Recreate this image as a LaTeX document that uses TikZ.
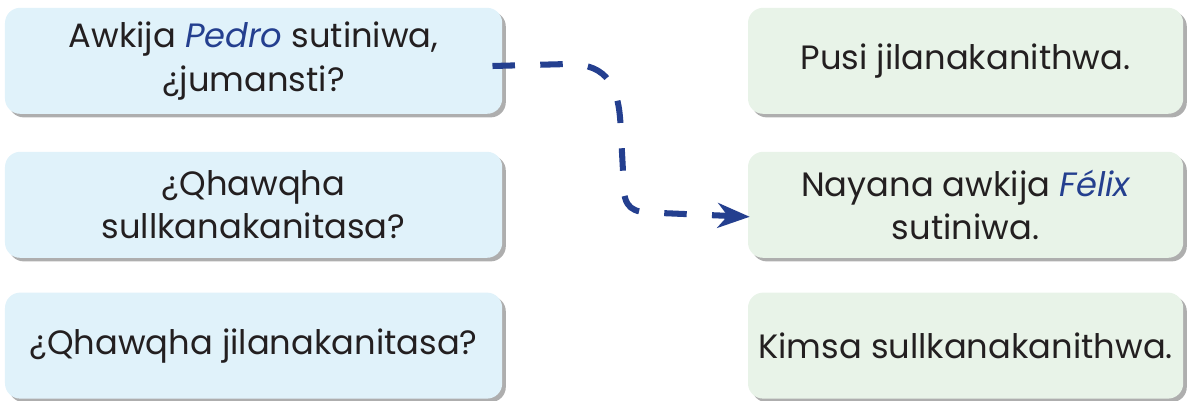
\documentclass[tikz,border=0pt]{standalone}
\usepackage{fontspec}
\setmainfont{Poppins}
\usepackage{tikz}
\usetikzlibrary{shadows,arrows.meta}
\definecolor{skyfill}{HTML}{E0F2FA}
\definecolor{mintfill}{HTML}{E8F3E8}
\definecolor{inkblue}{HTML}{243F8F}
\definecolor{textgray}{HTML}{231F20}

\tikzset{
  card/.style={rounded corners=0.38cm, minimum height=2.65cm, align=center,
    text=textgray, font=\fontsize{24}{31}\selectfont,
    drop shadow={shadow xshift=0.09cm, shadow yshift=-0.09cm, fill=black!45, opacity=0.7}},
  ask/.style={card, fill=skyfill, minimum width=12.43cm},
  reply/.style={card, fill=mintfill, minimum width=10.88cm},
  link/.style={inkblue, line width=4.3pt, dash pattern=on 16pt off 18pt,
    -{Stealth[length=0.8cm, width=0.62cm, inset=0.25cm]}}
}
\newcommand{\name}[1]{{\color{inkblue}\itshape #1}}

\begin{document}
\begin{tikzpicture}
\useasboundingbox (0,0) rectangle (29.85,-10.025);

% questions
\node[ask] (q1) at (6.34,-1.52) {Awkija \name{Pedro} sutiniwa,\\¿jumansti?};
\node[ask] (q2) at (6.34,-5.12) {¿Qhawqha\\sullkanakanitasa?};
\node[ask] (q3) at (6.34,-8.64) {¿Qhawqha jilanakanitasa?};

% answers
\node[reply] (a1) at (24.14,-1.52) {Pusi jilanakanithwa.};
\node[reply] (a2) at (24.14,-5.12) {Nayana awkija \name{Félix}\\sutiniwa.};
\node[reply] (a3) at (24.14,-8.64) {Kimsa sullkanakanithwa.};

\coordinate (from) at ([xshift=-0.25cm, yshift=-0.13cm]q1.east);
\coordinate (to) at ([xshift=0.05cm, yshift=-0.3cm]a2.west);

\draw[link] (from) -- ++(1.9,0.05)
  .. controls ++(1.0,0) and ++(-0.05,0.9) .. ++(1.3,-1.5)
  -- ++(0.08,-1.5)
  .. controls ++(0,-0.6) and ++(-0.6,0) .. ++(0.8,-0.72)
  -- (to);

\end{tikzpicture}
\end{document}
